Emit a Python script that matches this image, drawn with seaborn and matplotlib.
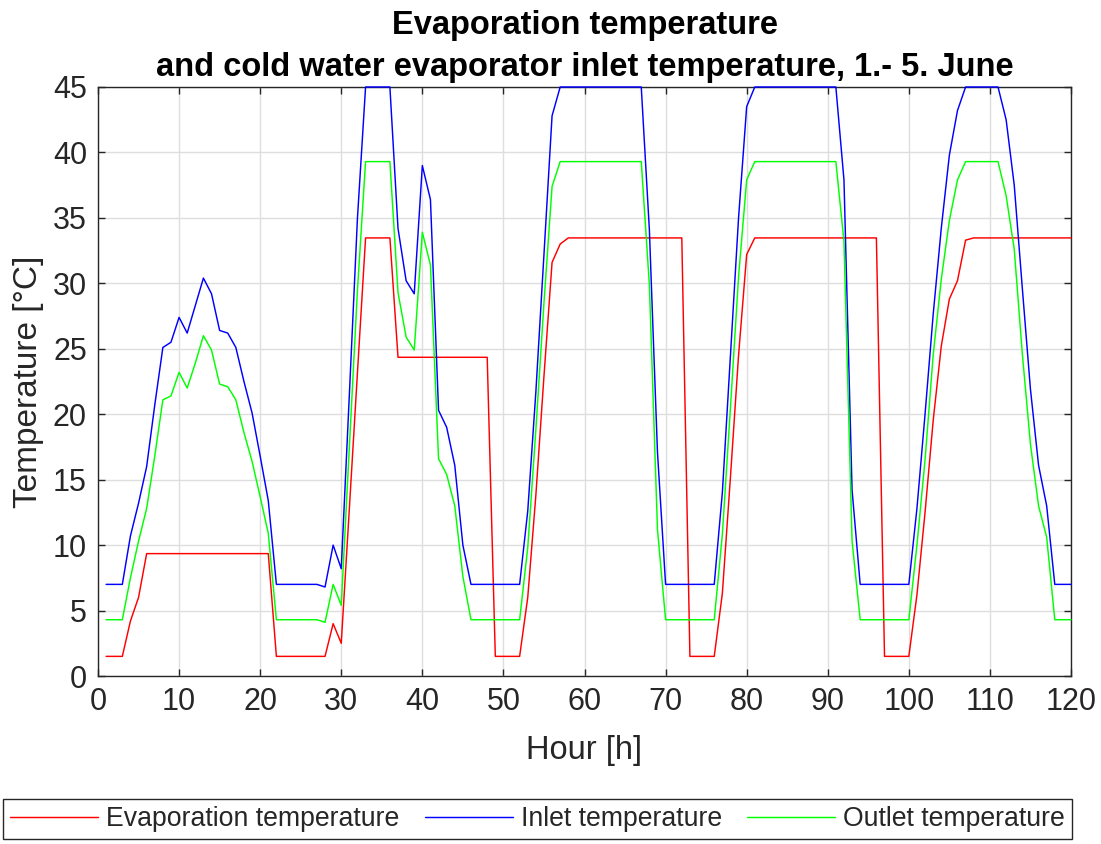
import matplotlib
matplotlib.use("Agg")
import matplotlib.pyplot as plt
import seaborn as sns
import pandas as pd

hours = list(range(1, 121))

evaporation = [
    1.5, 1.5, 1.5, 4.2, 6.0, 9.35, 9.35, 9.35, 9.35, 9.35,
    9.35, 9.35, 9.35, 9.35, 9.35, 9.35, 9.35, 9.35, 9.35, 9.35,
    9.35, 1.5, 1.5, 1.5, 1.5, 1.5, 1.5, 1.5, 4.0, 2.5,
    12.8, 23.2, 33.47, 33.47, 33.47, 33.47, 24.35, 24.35, 24.35, 24.35,
    24.35, 24.35, 24.35, 24.35, 24.35, 24.35, 24.35, 24.35, 1.5, 1.5,
    1.5, 1.5, 6.0, 13.8, 22.9, 31.6, 33.0, 33.47, 33.47, 33.47,
    33.47, 33.47, 33.47, 33.47, 33.47, 33.47, 33.47, 33.47, 33.47, 33.47,
    33.47, 33.47, 1.5, 1.5, 1.5, 1.5, 6.3, 15.2, 24.5, 32.2,
    33.47, 33.47, 33.47, 33.47, 33.47, 33.47, 33.47, 33.47, 33.47, 33.47,
    33.47, 33.47, 33.47, 33.47, 33.47, 33.47, 1.5, 1.5, 1.5, 1.5,
    6.2, 12.5, 19.5, 25.2, 28.8, 30.2, 33.3, 33.47, 33.47, 33.47,
    33.47, 33.47, 33.47, 33.47, 33.47, 33.47, 33.47, 33.47, 33.47, 33.47,
]

inlet = [
    7.0, 7.0, 7.0, 10.7, 13.2, 16.0, 20.7, 25.1, 25.5, 27.4,
    26.2, 28.3, 30.4, 29.2, 26.4, 26.2, 25.1, 22.5, 20.1, 16.8,
    13.4, 7.0, 7.0, 7.0, 7.0, 7.0, 7.0, 6.8, 10.0, 8.2,
    21.5, 35.0, 45.0, 45.0, 45.0, 45.0, 34.2, 30.2, 29.2, 39.0,
    36.4, 20.3, 19.0, 16.1, 10.0, 7.0, 7.0, 7.0, 7.0, 7.0,
    7.0, 7.0, 12.6, 21.7, 32.2, 42.8, 45.0, 45.0, 45.0, 45.0,
    45.0, 45.0, 45.0, 45.0, 45.0, 45.0, 45.0, 34.1, 17.1, 7.0,
    7.0, 7.0, 7.0, 7.0, 7.0, 7.0, 14.0, 24.5, 35.0, 43.5,
    45.0, 45.0, 45.0, 45.0, 45.0, 45.0, 45.0, 45.0, 45.0, 45.0,
    45.0, 37.9, 14.2, 7.0, 7.0, 7.0, 7.0, 7.0, 7.0, 7.0,
    12.8, 20.0, 27.6, 34.2, 39.8, 43.2, 45.0, 45.0, 45.0, 45.0,
    45.0, 42.5, 37.5, 29.6, 21.9, 16.1, 13.0, 7.0, 7.0, 7.0,
]

outlet = [
    4.3, 4.3, 4.3, 7.5, 10.3, 12.8, 16.8, 21.1, 21.4, 23.2,
    22.0, 23.9, 26.0, 24.9, 22.3, 22.1, 21.1, 18.6, 16.4, 13.7,
    10.9, 4.3, 4.3, 4.3, 4.3, 4.3, 4.3, 4.1, 7.0, 5.4,
    17.5, 29.5, 39.3, 39.3, 39.3, 39.3, 29.3, 25.9, 24.9, 33.9,
    31.4, 16.6, 15.4, 13.0, 7.6, 4.3, 4.3, 4.3, 4.3, 4.3,
    4.3, 4.3, 9.8, 18.8, 28.5, 37.4, 39.3, 39.3, 39.3, 39.3,
    39.3, 39.3, 39.3, 39.3, 39.3, 39.3, 39.3, 29.9, 11.2, 4.3,
    4.3, 4.3, 4.3, 4.3, 4.3, 4.3, 10.8, 20.5, 30.5, 37.9,
    39.3, 39.3, 39.3, 39.3, 39.3, 39.3, 39.3, 39.3, 39.3, 39.3,
    39.3, 33.2, 10.3, 4.3, 4.3, 4.3, 4.3, 4.3, 4.3, 4.3,
    10.0, 16.5, 24.5, 30.3, 34.8, 37.9, 39.3, 39.3, 39.3, 39.3,
    39.3, 36.7, 32.6, 24.6, 17.7, 13.0, 10.6, 4.3, 4.3, 4.3,
]

series_names = ["Evaporation temperature", "Inlet temperature", "Outlet temperature"]
series_colors = ["#ff0000", "#0000ff", "#00ff00"]
x_ticks = list(range(0, 121, 10))
y_ticks = list(range(0, 46, 5))

sns.set_style("whitegrid")
plt.rcParams["font.family"] = ["Liberation Sans", "DejaVu Sans"]

df = pd.DataFrame({
    "Hour": hours * 3,
    "Temperature": evaporation + inlet + outlet,
    "Series": [series_names[0]] * len(hours) + [series_names[1]] * len(hours) + [series_names[2]] * len(hours),
})

fig = plt.figure(figsize=(11.01, 8.44), dpi=100)
ax = fig.add_axes([98 / 1101, 1 - 676 / 844, (1071 - 98) / 1101, (676 - 87) / 844])

sns.lineplot(data=df, x="Hour", y="Temperature", hue="Series",
             hue_order=series_names, palette=series_colors,
             linewidth=1.05, ax=ax, legend=False, estimator=None)
for ln in ax.get_lines():
    ln.set_clip_on(False)
    ln.set_zorder(3)

ax.set_xlim(0, 120)
ax.set_ylim(0, 45)
ax.set_xticks(x_ticks)
ax.set_yticks(y_ticks)
ax.grid(True, color="#dedede", linewidth=1.0)
ax.set_axisbelow(True)
for s in ax.spines.values():
    s.set_visible(True)
    s.set_color("#262626")
    s.set_linewidth(1.0)
    s.set_zorder(2.5)
ax.tick_params(axis="both", which="both", direction="in", length=5, width=1.0,
               color="#262626", labelsize=22, labelcolor="#262626",
               top=True, right=True, bottom=True, left=True, pad=8)

ax.set_xlabel("Hour [h]", fontsize=23.5, color="#262626", labelpad=13)
ax.set_ylabel("Temperature [°C]", fontsize=24, color="#262626", labelpad=6)
ax.set_title("Evaporation temperature\nand cold water evaporator inlet temperature, 1.- 5. June",
             fontsize=23.5, fontweight="bold", color="black", pad=8, linespacing=1.45)

handles = ax.get_lines()[:3]
leg = fig.legend(handles, series_names, loc="center",
                 bbox_to_anchor=(537.5 / 1101, 1 - 819 / 844), ncol=3,
                 fontsize=19.2, frameon=True, fancybox=False, framealpha=1,
                 edgecolor="#262626", handlelength=3.3, handletextpad=0.3,
                 columnspacing=0.95, borderpad=0.25, borderaxespad=0)
leg.get_frame().set_linewidth(1.0)
for t in leg.get_texts():
    t.set_color("#262626")

fig.savefig("out.png", dpi=100)
